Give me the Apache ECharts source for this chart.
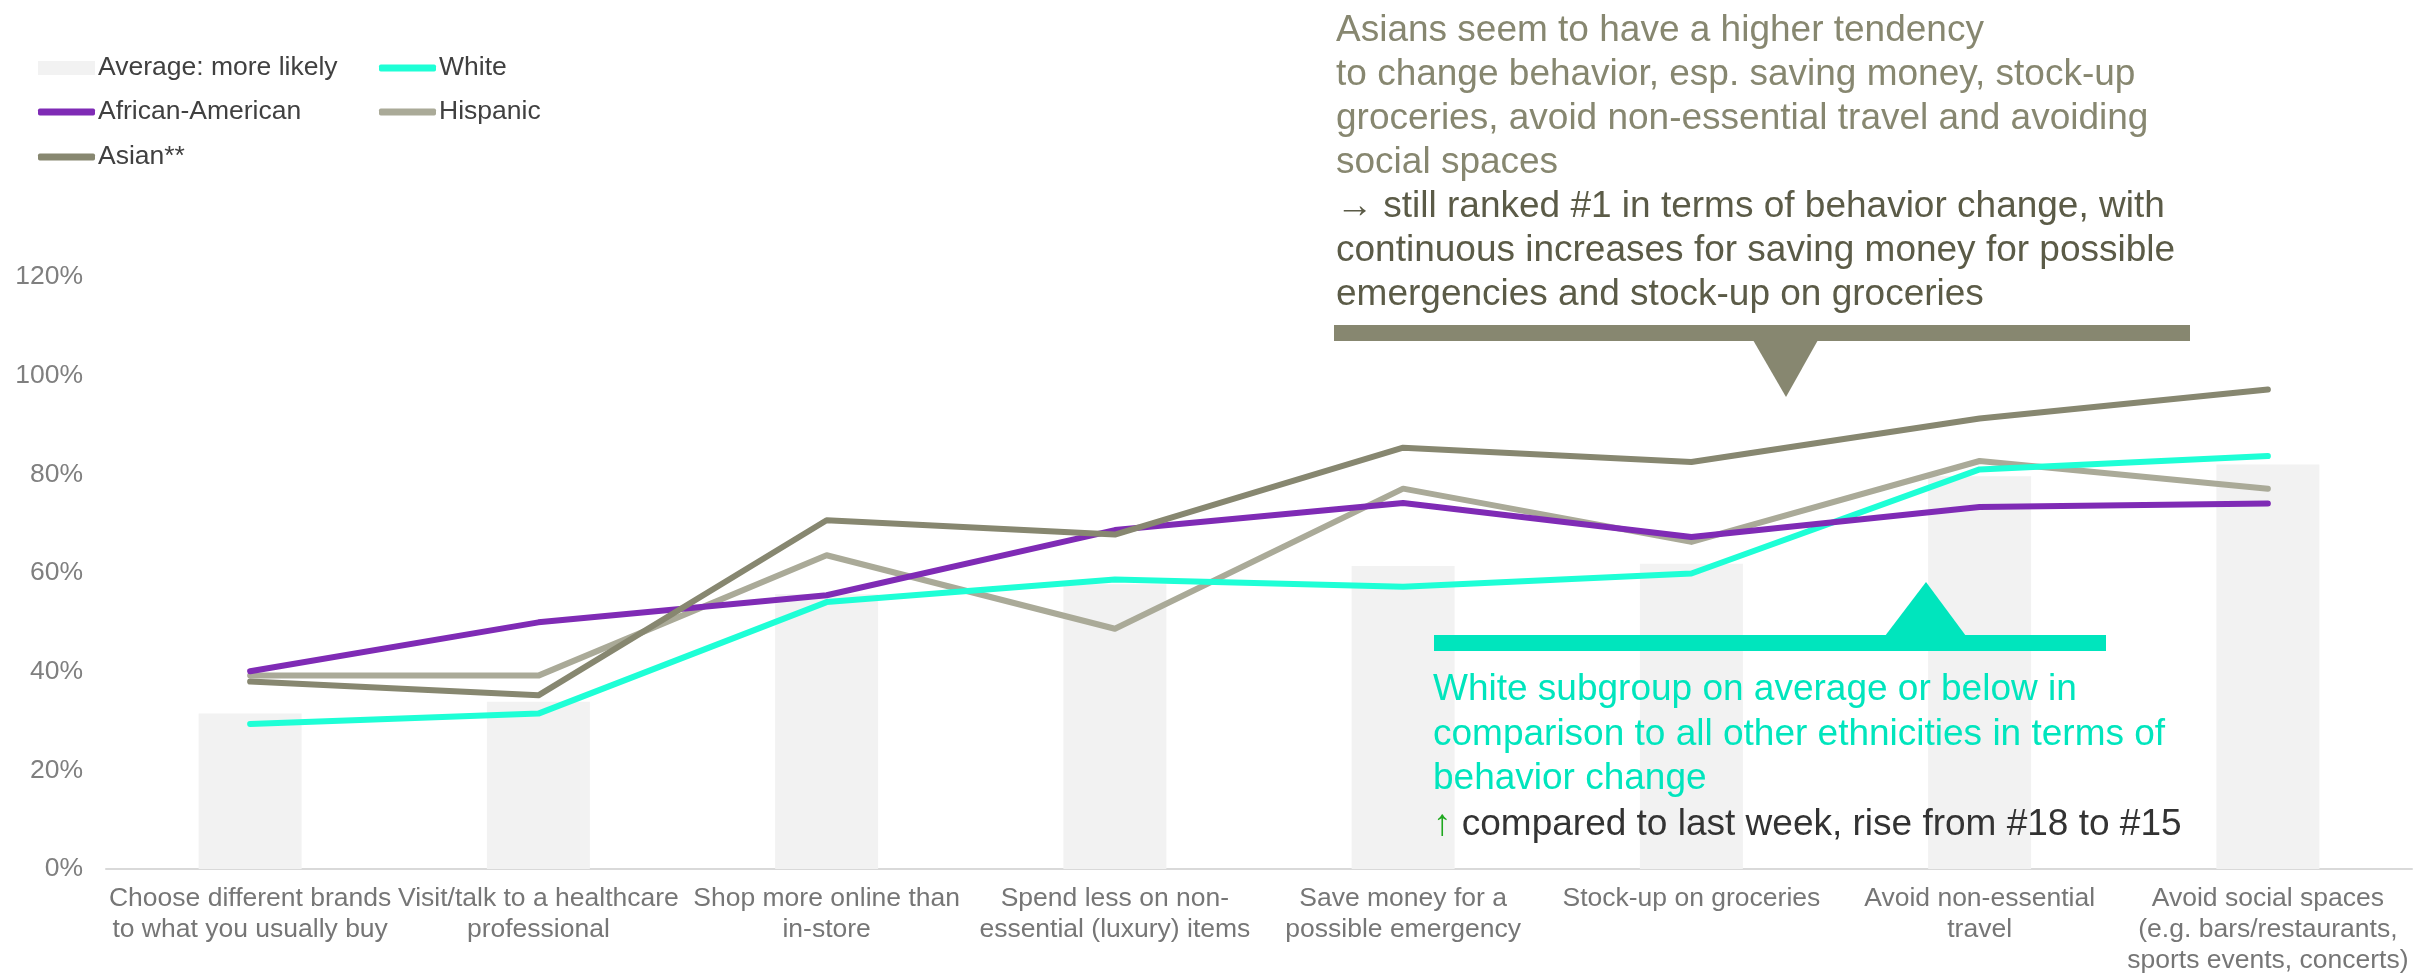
<!DOCTYPE html>
<html>
<head>
<meta charset="utf-8">
<script src="https://cdn.jsdelivr.net/npm/echarts@6/dist/echarts.min.js"></script>
<style>
html,body{margin:0;padding:0;background:#fff;}
#chart{width:2415px;height:975px;}
</style>
</head>
<body>
<div id="chart"></div>
<script>
const categories = [
  "Choose different brands\nto what you usually buy",
  "Visit/talk to a healthcare\nprofessional",
  "Shop more online than\nin-store",
  "Spend less on non-\nessential (luxury) items",
  "Save money for a\npossible emergency",
  "Stock-up on groceries",
  "Avoid non-essential\ntravel",
  "Avoid social spaces\n(e.g. bars/restaurants,\nsports events, concerts)"
];
const averageMoreLikely = [31.5, 33.9, 55.7, 57.7, 61.4, 61.9, 79.6, 82.0];
const white = [29.4, 31.5, 54.1, 58.7, 57.2, 59.9, 81.0, 83.7];
const africanAmerican = [40.1, 50.0, 55.5, 68.7, 74.2, 67.3, 73.4, 74.1];
const hispanic = [39.2, 39.2, 63.6, 48.7, 77.1, 66.3, 82.7, 77.1];
const asian = [38.0, 35.2, 70.7, 67.8, 85.4, 82.5, 91.3, 97.2];
const yTicks = { min: 0, max: 120, interval: 20 };

const FONT = "'Liberation Sans', Arial, 'DejaVu Sans', sans-serif";
const C = {
  avg: '#f2f2f2', white: '#1effd6', afam: '#7f2bb5', hisp: '#aaaa98', asian: '#878770',
  teal: '#00e5bd', olive: '#878770', oliveDark: '#5b5b47'
};

const chart = echarts.init(document.getElementById('chart'), null, { renderer: 'canvas' });

function lineSeries(name, data, color) {
  return {
    name, type: 'line', data, symbol: 'none', showSymbol: false, smooth: false, z: 3,
    lineStyle: { color, width: 6, cap: 'round', join: 'round' },
    itemStyle: { color }
  };
}
function legendAt(name, left, top, color, isBar) {
  return {
    data: [{ name, icon: isBar ? 'rect' : 'roundRect', itemStyle: { color, borderWidth: 0 } }],
    left, top, padding: 0, itemWidth: 57, itemHeight: isBar ? 14 : 7, itemGap: 0,
    selectedMode: false,
    textStyle: { fontFamily: FONT, fontSize: 26.5, color: '#404040', lineHeight: 30, padding: [0, 0, 0, -2] }
  };
}

const option = {
  backgroundColor: '#fff',
  animation: false,
  grid: { left: 106, right: 3, top: 277, bottom: 106, containLabel: false, outerBoundsMode: 'none' },
  legend: [
    legendAt('Average: more likely', 38, 53, C.avg, true),
    legendAt('African-American', 38, 97, C.afam, false),
    legendAt('Asian**', 38, 142, C.asian, false),
    legendAt('White', 379, 53, C.white, false),
    legendAt('Hispanic', 379, 97, C.hisp, false)
  ],
  xAxis: {
    type: 'category', data: categories, boundaryGap: true,
    axisLine: { show: true, lineStyle: { color: '#d9d9d9', width: 2 } },
    axisTick: { show: false },
    axisLabel: {
      interval: 0, hideOverlap: false, margin: 14,
      fontFamily: FONT, fontSize: 26.5, color: '#767676', lineHeight: 31, align: 'center'
    },
    splitLine: { show: false }
  },
  yAxis: {
    type: 'value', min: yTicks.min, max: yTicks.max, interval: yTicks.interval,
    axisLine: { show: false }, axisTick: { show: false }, splitLine: { show: false },
    axisLabel: { formatter: '{value}%', margin: 23, fontFamily: FONT, fontSize: 26.5, color: '#7f7f7f' }
  },
  series: [
    { name: 'Average: more likely', type: 'bar', data: averageMoreLikely, barWidth: 103, z: 1,
      itemStyle: { color: C.avg } },
    lineSeries('Hispanic', hispanic, C.hisp),
    lineSeries('White', white, C.white),
    lineSeries('African-American', africanAmerican, C.afam),
    lineSeries('Asian**', asian, C.asian)
  ],
  graphic: [
    { type: 'rect', shape: { x: 1334, y: 325, width: 856, height: 16 }, style: { fill: C.olive }, z: 10 },
    { type: 'polygon', shape: { points: [[1753, 340], [1818, 340], [1786, 397]] }, style: { fill: C.olive }, z: 10 },
    { type: 'rect', shape: { x: 1434, y: 635, width: 672, height: 16 }, style: { fill: C.teal }, z: 10 },
    { type: 'polygon', shape: { points: [[1885, 636], [1966, 636], [1926, 582]] }, style: { fill: C.teal }, z: 10 },
    {
      type: 'text', x: 1336, y: 9, z: 10,
      style: {
        text: '{a|Asians seem to have a higher tendency}\n{a|to change behavior, esp. saving money, stock-up}\n{a|groceries, avoid non-essential travel and avoiding}\n{a|social spaces}\n{b|→ still ranked #1 in terms of behavior change, with}\n{b|continuous increases for saving money for possible}\n{b|emergencies and stock-up on groceries}',
        fontFamily: FONT, fontSize: 37, fill: C.olive,
        rich: {
          a: { fontFamily: FONT, fontSize: 37, fill: C.olive, lineHeight: 44 },
          b: { fontFamily: FONT, fontSize: 37, fill: C.oliveDark, lineHeight: 44 }
        }
      }
    },
    {
      type: 'text', x: 1433, y: 668, z: 10,
      style: {
        text: '{t|White subgroup on average or below in}\n{t|comparison to all other ethnicities in terms of}\n{t|behavior change}\n{g|↑} {d|compared to last week, rise from #18 to #15}',
        fontFamily: FONT, fontSize: 37, fill: '#333333',
        rich: {
          t: { fontFamily: FONT, fontSize: 37, fill: C.teal, lineHeight: 44.5 },
          g: { fontFamily: FONT, fontSize: 37, fill: '#1fa81f', lineHeight: 46 },
          d: { fontFamily: FONT, fontSize: 37, fill: '#333333', lineHeight: 46 }
        }
      }
    }
  ]
};
chart.setOption(option);
</script>
</body>
</html>
